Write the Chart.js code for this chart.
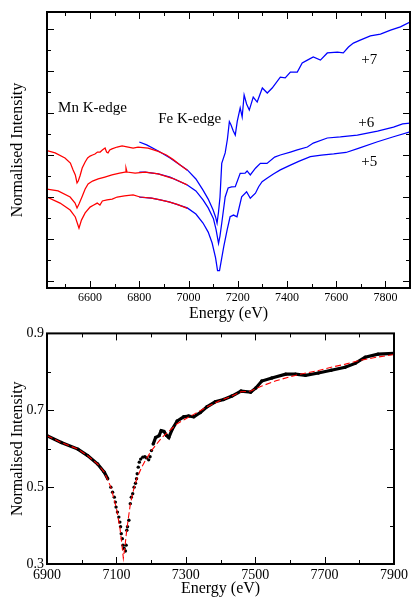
<!DOCTYPE html>
<html><head><meta charset="utf-8">
<script src="https://cdn.jsdelivr.net/npm/chart.js@4.4.0/dist/chart.umd.min.js"></script>
<style>
html,body{margin:0;padding:0;background:#fff;width:411px;height:598px;overflow:hidden}
canvas{position:absolute;left:0}
#c1{top:0}
#c2{top:322px}
</style></head><body>
<canvas id="c1" width="411" height="322" style="width:411px;height:322px"></canvas>
<canvas id="c2" width="411" height="276" style="width:411px;height:276px"></canvas>
<script>
// ---------- Top panel data (Mn K-edge: red, Fe K-edge: blue) ----------
const mnEnergy7 = [6425,6458,6498,6520,6531,6540,6547,6552,6559,6568,6580,6590,6600,6610,6620,6630,6641,6650,6661,6667,6673,6680,6689,6710,6730,6755,6775,6795,6836,6877,6910,6938,6966,6995];
const mnInt7    = [0.621,0.610,0.586,0.562,0.529,0.505,0.467,0.476,0.500,0.538,0.567,0.586,0.595,0.600,0.605,0.614,0.614,0.624,0.633,0.614,0.610,0.624,0.629,0.638,0.643,0.638,0.633,0.638,0.633,0.617,0.600,0.578,0.553,0.527];
const mnEnergy6 = [6425,6470,6519,6539,6547,6555,6567,6580,6592,6610,6633,6660,6689,6720,6742,6746,6750,6783,6824,6877,6938,6995];
const mnInt6    = [0.438,0.429,0.400,0.371,0.348,0.367,0.400,0.438,0.462,0.476,0.486,0.495,0.505,0.514,0.519,0.538,0.519,0.514,0.519,0.510,0.488,0.458];
const mnEnergy5 = [6425,6478,6519,6540,6555,6565,6580,6600,6615,6629,6640,6650,6669,6690,6710,6740,6775,6803,6850,6885,6920,6954,6995];
const mnInt5    = [0.400,0.371,0.338,0.305,0.252,0.290,0.324,0.352,0.362,0.371,0.362,0.381,0.386,0.390,0.400,0.405,0.410,0.400,0.395,0.386,0.377,0.365,0.346];

const feEnergy7 = [6800,6830,6877,6925,6960,6995,7030,7059,7080,7100,7110,7116,7122,7128,7135,7149,7158,7166,7172,7182,7190,7198,7210,7218,7226,7236,7247,7263,7279,7300,7320,7340,7373,7393,7414,7442,7462,7483,7507,7536,7564,7605,7629,7650,7670,7700,7739,7780,7821,7861,7900];
const feInt7    = [0.662,0.648,0.619,0.586,0.557,0.529,0.486,0.433,0.390,0.338,0.305,0.276,0.329,0.400,0.560,0.610,0.675,0.759,0.745,0.714,0.695,0.760,0.824,0.781,0.886,0.843,0.814,0.876,0.852,0.919,0.895,0.919,0.971,0.967,0.995,0.995,1.038,1.052,1.067,1.052,1.086,1.090,1.086,1.114,1.133,1.148,1.167,1.176,1.195,1.210,1.233];
const feEnergy6 = [6800,6824,6877,6925,6995,7030,7059,7080,7101,7112,7122,7128,7135,7149,7161,7175,7190,7210,7230,7238,7251,7272,7292,7319,7350,7373,7414,7442,7483,7507,7564,7617,7686,7768,7833,7870,7900];
const feInt6    = [0.519,0.519,0.510,0.495,0.457,0.429,0.386,0.348,0.298,0.245,0.179,0.215,0.275,0.400,0.443,0.448,0.449,0.513,0.514,0.524,0.505,0.537,0.560,0.560,0.590,0.600,0.614,0.624,0.638,0.657,0.681,0.686,0.695,0.714,0.733,0.748,0.752];
const feEnergy5 = [6800,6850,6885,6925,6995,7030,7059,7080,7096,7110,7118,7126,7143,7157,7169,7183,7197,7216,7236,7251,7272,7285,7299,7319,7345,7373,7414,7450,7495,7540,7590,7640,7690,7768,7833,7900];
const feInt5    = [0.400,0.395,0.386,0.376,0.348,0.319,0.276,0.233,0.181,0.110,0.050,0.050,0.163,0.243,0.306,0.314,0.306,0.401,0.425,0.394,0.418,0.449,0.473,0.489,0.510,0.529,0.552,0.571,0.592,0.600,0.605,0.612,0.632,0.663,0.687,0.710];

// ---------- Bottom panel data (experiment: black dots, fit: red dashed) ----------
const expEnergy = [6900,6941,6989,7017,7046,7065,7075,7084,7089,7094,7097,7099,7103,7107,7110,7112,7114,7117,7119,7122,7126,7128,7130,7132,7136,7140,7143,7147,7151,7155,7158,7160,7163,7166,7170,7176,7182,7187,7193,7197,7201,7206,7213,7223,7229,7237,7245,7251,7261,7275,7294,7308,7323,7342,7361,7385,7409,7433,7459,7487,7502,7519,7548,7588,7616,7645,7682,7719,7759,7788,7817,7854,7900];
const expInt    = [0.634,0.616,0.599,0.582,0.560,0.539,0.522,0.500,0.487,0.474,0.461,0.448,0.435,0.422,0.409,0.397,0.379,0.366,0.349,0.341,0.334,0.349,0.388,0.397,0.414,0.457,0.474,0.483,0.500,0.510,0.522,0.535,0.552,0.565,0.573,0.578,0.579,0.576,0.571,0.579,0.595,0.612,0.629,0.634,0.647,0.645,0.634,0.629,0.651,0.672,0.683,0.685,0.683,0.694,0.709,0.722,0.728,0.737,0.750,0.747,0.758,0.776,0.784,0.794,0.794,0.791,0.797,0.804,0.812,0.822,0.838,0.846,0.848];
const fitEnergy = [6900,6941,6989,7017,7046,7065,7084,7100,7110,7116,7120,7124,7130,7140,7150,7160,7172,7185,7201,7230,7275,7324,7361,7396,7433,7459,7487,7502,7519,7560,7625,7680,7719,7760,7797,7850,7900];
const fitInt    = [0.634,0.616,0.599,0.582,0.560,0.539,0.500,0.445,0.395,0.350,0.315,0.340,0.390,0.455,0.495,0.525,0.550,0.572,0.595,0.628,0.665,0.690,0.709,0.724,0.737,0.748,0.750,0.756,0.763,0.777,0.793,0.803,0.812,0.820,0.829,0.838,0.845];

// ---------- Tick values ----------
const topXMajor = [6600,6800,7000,7200,7400,7600,7800];
const topXMinor = [6500,6700,6900,7100,7300,7500,7700,7900];
const topYMajor = [0,0.2,0.4,0.6,0.8,1.0,1.2];
const topYMinor = [0.1,0.3,0.5,0.7,0.9,1.1];
const botXMajor = [6900,7100,7300,7500,7700,7900];
const botXMinor = [7000,7200,7400,7600,7800];
const botYMajor = [0.3,0.5,0.7,0.9];
const botYMinor = [0.4,0.6,0.8];

const zip = (xs, ys) => xs.map((x, i) => ({x, y: ys[i]}));
const SERIF = "'Liberation Serif', 'Times New Roman', serif";

const framePlugin = {
  id: 'frame',
  afterDatasetsDraw(chart, args, o) {
    const {ctx, chartArea: a, scales: {x, y}} = chart;
    ctx.save();
    ctx.strokeStyle = '#000';
    ctx.lineWidth = 1;
    const tickX = (vals, len) => vals.forEach(v => {
      const p = Math.round(x.getPixelForValue(v)) + 0.5;
      ctx.beginPath();
      ctx.moveTo(p, a.bottom); ctx.lineTo(p, a.bottom - len);
      ctx.moveTo(p, a.top); ctx.lineTo(p, a.top + len);
      ctx.stroke();
    });
    const tickY = (vals, len) => vals.forEach(v => {
      const p = Math.round(y.getPixelForValue(v)) + 0.5;
      ctx.beginPath();
      ctx.moveTo(a.left, p); ctx.lineTo(a.left + len, p);
      ctx.moveTo(a.right, p); ctx.lineTo(a.right - len, p);
      ctx.stroke();
    });
    tickX(o.xMajor, 7); tickX(o.xMinor, 4);
    tickY(o.yMajor, 7); tickY(o.yMinor, 4);
    ctx.lineWidth = 2;
    ctx.strokeRect(a.left, a.top, a.right - a.left, a.bottom - a.top);
    ctx.fillStyle = '#000';
    ctx.textBaseline = 'middle';
    ctx.textAlign = 'left';
    ctx.font = '15px ' + SERIF;
    (o.notes || []).forEach(n => ctx.fillText(n.text, x.getPixelForValue(n.x), y.getPixelForValue(n.y)));
    ctx.restore();
  }
};

function axisX(min, max, tickSize, height, titleBottomPad) {
  return {
    type: 'linear', min, max,
    grid: {display: false, drawTicks: false}, border: {display: false},
    ticks: {stepSize: 200, includeBounds: false, padding: 3, color: '#000', maxRotation: 0, autoSkip: false,
            font: {family: SERIF, size: tickSize}, callback: v => String(v)},
    title: {display: true, text: 'Energy (eV)', color: '#000', font: {family: SERIF, size: 16, lineHeight: 1},
            padding: {top: 0, bottom: titleBottomPad}},
    afterFit(s) { s.height = height; }
  };
}
function axisY(min, max, showTicks, step) {
  return {
    type: 'linear', min, max,
    grid: {display: false, drawTicks: false}, border: {display: false},
    ticks: {display: showTicks, stepSize: step, padding: 3, color: '#000', font: {family: SERIF, size: 14},
            callback: v => v.toFixed(1)},
    title: {display: true, text: 'Normalised Intensity', color: '#000', font: {family: SERIF, size: 16, lineHeight: 1},
            padding: {top: 10, bottom: 0}},
    afterFit(s) { s.width = 47; }
  };
}

const line = (data, color) => ({data, borderColor: color, backgroundColor: color, borderWidth: 1.25,
  pointRadius: 0, showLine: true, tension: 0, fill: false});

new Chart(document.getElementById('c1'), {
  type: 'scatter',
  data: {datasets: [
    line(zip(mnEnergy7, mnInt7), '#ff0000'),
    line(zip(mnEnergy6, mnInt6), '#ff0000'),
    line(zip(mnEnergy5, mnInt5), '#ff0000'),
    line(zip(feEnergy7, feInt7), '#0000ff'),
    line(zip(feEnergy6, feInt6), '#0000ff'),
    line(zip(feEnergy5, feInt5), '#0000ff')
  ]},
  options: {
    responsive: false, animation: false, devicePixelRatio: 1,
    layout: {padding: {top: 12, right: 1, left: 0, bottom: 0}},
    scales: {x: axisX(6425, 7900, 12, 34, 0), y: axisY(-0.0333, 1.281, false, 0.2)},
    plugins: {legend: {display: false}, tooltip: {enabled: false},
      frame: {xMajor: topXMajor, xMinor: topXMinor, yMajor: topYMajor, yMinor: topYMinor,
        notes: [
          {text: 'Mn K-edge', x: 6470, y: 0.824},
          {text: 'Fe K-edge', x: 6877, y: 0.771},
          {text: '+7', x: 7702, y: 1.052},
          {text: '+6', x: 7690, y: 0.752},
          {text: '+5', x: 7702, y: 0.567}
        ]}}
  },
  plugins: [framePlugin]
});

new Chart(document.getElementById('c2'), {
  type: 'scatter',
  data: {datasets: [
    {data: zip(fitEnergy, fitInt), borderColor: '#ff0000', borderWidth: 1.1, borderDash: [6, 3],
     pointRadius: 0, showLine: true, tension: 0, fill: false},
    {data: zip(expEnergy, expInt), borderColor: '#000', backgroundColor: '#000', borderWidth: 3.2,
     pointRadius: 1.7, pointBorderWidth: 0, showLine: true, tension: 0, fill: false,
     segment: {borderColor: c => (c.p0.parsed.x >= 7075 && c.p1.parsed.x <= 7206) ? 'rgba(0,0,0,0)' : '#000'}}
  ]},
  options: {
    responsive: false, animation: false, devicePixelRatio: 1,
    layout: {padding: {top: 10, right: 14, left: 0, bottom: 0}},
    scales: {x: axisX(6900, 7900, 14, 34, 1), y: axisY(0.3, 0.9, true, 0.2)},
    plugins: {legend: {display: false}, tooltip: {enabled: false},
      frame: {xMajor: botXMajor, xMinor: botXMinor, yMajor: botYMajor, yMinor: botYMinor}}
  },
  plugins: [framePlugin]
});
</script>
</body></html>
